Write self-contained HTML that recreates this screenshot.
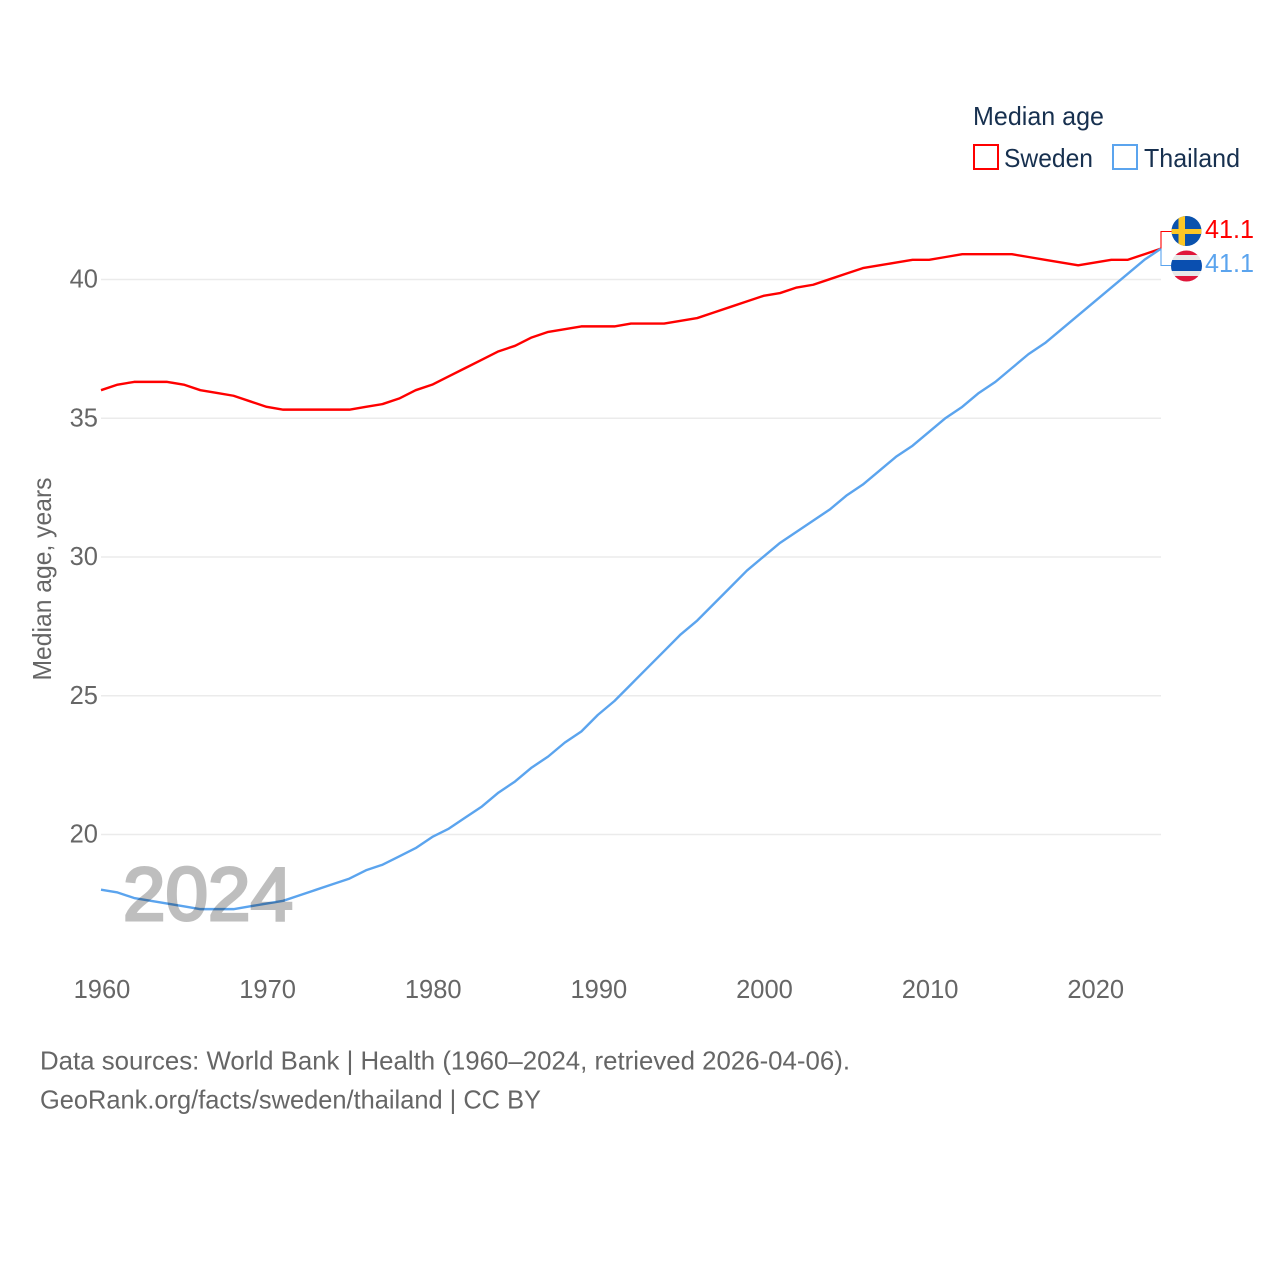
<!DOCTYPE html>
<html lang="en">
<head>
<meta charset="utf-8">
<title>Median age: Sweden and Thailand</title>
<style>
html,body{margin:0;padding:0;background:#fff}
svg{display:block}
text{font-family:"Liberation Sans",sans-serif}
</style>
</head>
<body>
<svg id="chart" xmlns="http://www.w3.org/2000/svg" width="1280" height="1280" viewBox="0 0 1280 1280">
  <rect width="1280" height="1280" fill="#fff"/>
  <g id="grid"></g>
  <g id="yticks"></g>
  <g id="xticks"></g>
  <text transform="translate(51,579) rotate(-90)" text-anchor="middle" font-size="26" fill="#666" textLength="203" lengthAdjust="spacingAndGlyphs">Median age, years</text>
  <g id="series"></g>
  <text x="123" y="920" font-size="75" fill="#000" stroke="#000" stroke-width="3" opacity="0.25" textLength="170" lengthAdjust="spacingAndGlyphs">2024</text>
  <g id="end-markers"></g>

  <defs>
    <clipPath id="clip-se"><circle cx="1186.500" cy="231" r="15"/></clipPath>
    <clipPath id="clip-th"><circle cx="1186.500" cy="266" r="15.500"/></clipPath>
  </defs>

  <g>
    <text x="973" y="125" font-size="26" fill="#17304f" textLength="131" lengthAdjust="spacingAndGlyphs">Median age</text>
    <g>
      <rect x="974" y="145" width="24" height="24" fill="#fff" stroke="#ff0000" stroke-width="2"/>
      <text x="1004" y="167" font-size="26" fill="#17304f" textLength="89" lengthAdjust="spacingAndGlyphs">Sweden</text>
    </g>
    <g>
      <rect x="1113" y="145" width="24" height="24" fill="#fff" stroke="#5ba4ee" stroke-width="2"/>
      <text x="1144" y="167" font-size="26" fill="#17304f" textLength="96" lengthAdjust="spacingAndGlyphs">Thailand</text>
    </g>
  </g>

  <g>
    <text x="40" y="1069.500" font-size="26" fill="#666" textLength="810" lengthAdjust="spacingAndGlyphs">Data sources: World Bank | Health (1960–2024, retrieved 2026-04-06).</text>
    <text x="40" y="1108.500" font-size="26" fill="#666" textLength="501" lengthAdjust="spacingAndGlyphs">GeoRank.org/facts/sweden/thailand | CC BY</text>
  </g>
</svg>
<script>
const startYear = 1960;
const xTickYears = [1960, 1970, 1980, 1990, 2000, 2010, 2020];
const yTickValues = [20, 25, 30, 35, 40];
const swedenValues = [36.0,36.2,36.3,36.3,36.3,36.2,36.0,35.9,35.8,35.6,35.4,35.3,35.3,35.3,35.3,35.3,35.4,35.5,35.7,36.0,36.2,36.5,36.8,37.1,37.4,37.6,37.9,38.1,38.2,38.3,38.3,38.3,38.4,38.4,38.4,38.5,38.6,38.8,39.0,39.2,39.4,39.5,39.7,39.8,40.0,40.2,40.4,40.5,40.6,40.7,40.7,40.8,40.9,40.9,40.9,40.9,40.8,40.7,40.6,40.5,40.6,40.7,40.7,40.9,41.1];
const thailandValues = [18.0,17.9,17.7,17.6,17.5,17.4,17.3,17.3,17.3,17.4,17.5,17.6,17.8,18.0,18.2,18.4,18.7,18.9,19.2,19.5,19.9,20.2,20.6,21.0,21.5,21.9,22.4,22.8,23.3,23.7,24.3,24.8,25.4,26.0,26.6,27.2,27.7,28.3,28.9,29.5,30.0,30.5,30.9,31.3,31.7,32.2,32.6,33.1,33.6,34.0,34.5,35.0,35.4,35.9,36.3,36.8,37.3,37.7,38.2,38.7,39.2,39.7,40.2,40.7,41.1];

const NS = 'http://www.w3.org/2000/svg';
const RED = '#ff0000';
const BLUE = '#5ba4ee';
function xScale(year) { return 101 + (year - 1960) * 16.5625; }
function yScale(value) { return 279.2 + (40 - value) * 27.75; }
function make(tag, attrs, parent, content) {
  const el = document.createElementNS(NS, tag);
  for (const k in attrs) el.setAttribute(k, attrs[k]);
  if (content !== undefined) el.textContent = content;
  parent.appendChild(el);
  return el;
}
const gridG = document.getElementById('grid');
const yG = document.getElementById('yticks');
const xG = document.getElementById('xticks');
const seriesG = document.getElementById('series');
const markerG = document.getElementById('end-markers');

yTickValues.forEach(function (v) {
  const line = make('line', {x1: xScale(startYear), x2: xScale(startYear + swedenValues.length - 1), y1: yScale(v) + 0.3, y2: yScale(v) + 0.3, stroke: '#ebebeb', 'stroke-width': 1.5}, gridG);
  
  
  const label = make('text', {x: 98, y: yScale(v) + 8.500, 'text-anchor': 'end', 'font-size': 25.5, fill: '#666'}, yG, String(v));
  
  
});
xTickYears.forEach(function (y) {
  const label = make('text', {x: xScale(y) + 1, y: 998, 'text-anchor': 'middle', 'font-size': 25.5, fill: '#666'}, xG, String(y));
  
  
});
function pathFor(values) {
  return values.map(function (v, i) {
    return (i ? 'L' : 'M') + xScale(startYear + i).toFixed(2) + ' ' + yScale(v).toFixed(2);
  }).join(' ');
}
const swedenLine = make('path', {d: pathFor(swedenValues), fill: 'none', stroke: RED, 'stroke-width': 2.4, 'stroke-linejoin': 'round'}, seriesG);


const thailandLine = make('path', {d: pathFor(thailandValues), fill: 'none', stroke: BLUE, 'stroke-width': 2.4, 'stroke-linejoin': 'round'}, seriesG);



const lastIndex = swedenValues.length - 1;
const endX = xScale(startYear + lastIndex);
const swedenLast = swedenValues[lastIndex];
const thailandLast = thailandValues[lastIndex];
const connectorA = make('path', {d: 'M' + endX + ' ' + yScale(swedenLast) + ' V231.500 H1172', fill: 'none', stroke: RED, 'stroke-width': 1.1}, markerG);


const connectorB = make('path', {d: 'M' + endX + ' ' + yScale(thailandLast) + ' V265.500 H1172', fill: 'none', stroke: BLUE, 'stroke-width': 1.1}, markerG);


const labelA = make('text', {x: 1205, y: 238, 'font-size': 26, fill: RED, textLength: 49, lengthAdjust: 'spacingAndGlyphs'}, markerG, swedenLast.toFixed(1));


const labelB = make('text', {x: 1205, y: 272, 'font-size': 26, fill: BLUE, textLength: 49, lengthAdjust: 'spacingAndGlyphs'}, markerG, thailandLast.toFixed(1));


</script>
<svg style="position:absolute;left:0;top:0;pointer-events:none" xmlns="http://www.w3.org/2000/svg" width="1280" height="1280" viewBox="0 0 1280 1280">
  <defs>
    <clipPath id="clip-se-top"><circle cx="1186.500" cy="231" r="15"/></clipPath>
    <clipPath id="clip-th-top"><circle cx="1186.500" cy="266" r="15.500"/></clipPath>
  </defs>
  <g clip-path="url(#clip-se-top)">
    <rect x="1171" y="216" width="31" height="30" fill="#0a52ad"/>
    <rect x="1178.500" y="216" width="6.500" height="30" fill="#fcc726"/>
    <rect x="1171" y="229" width="31" height="5" fill="#fcc726"/>
  </g>
  <g clip-path="url(#clip-th-top)">
    <rect x="1171" y="250" width="31" height="32" fill="#e8e8e8"/>
    <rect x="1171" y="250" width="31" height="5" fill="#e0163a"/>
    <rect x="1171" y="276" width="31" height="6" fill="#e0163a"/>
    <rect x="1171" y="260" width="31" height="11" fill="#0a4fb0"/>
  </g>
</svg>
</body>
</html>
